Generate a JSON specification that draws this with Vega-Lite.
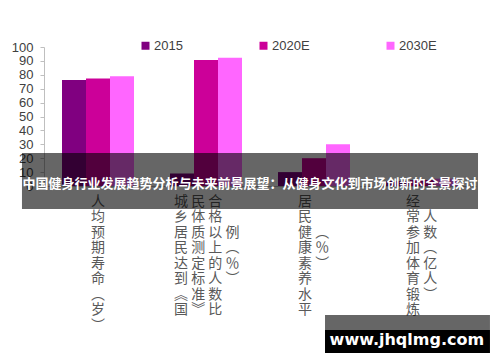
{
  "$schema": "https://vega.github.io/schema/vega-lite/v6.json",
  "width": 432,
  "height": 139,
  "autosize": {"type": "none"},
  "padding": {"left": 44, "top": 47, "right": 24, "bottom": 176},
  "background": "white",
  "config": {"view": {"stroke": null}, "font": "Liberation Sans"},
  "resolve": {"axis": {"x": "independent", "y": "independent"}},
  "datasets": {
    "bars": [
      {"category": "人均预期寿命（岁）", "series": "2015", "value": 76.3},
      {"category": "人均预期寿命（岁）", "series": "2020E", "value": 77.3},
      {"category": "人均预期寿命（岁）", "series": "2030E", "value": 79.0},
      {"category": "城乡居民达到《国民体质测定标准》合格以上的人数比例（%）", "series": "2015", "value": 9.0},
      {"category": "城乡居民达到《国民体质测定标准》合格以上的人数比例（%）", "series": "2020E", "value": 90.6},
      {"category": "城乡居民达到《国民体质测定标准》合格以上的人数比例（%）", "series": "2030E", "value": 92.2},
      {"category": "居民健康素养水平（%）", "series": "2015", "value": 10},
      {"category": "居民健康素养水平（%）", "series": "2020E", "value": 20},
      {"category": "居民健康素养水平（%）", "series": "2030E", "value": 30},
      {"category": "经常参加体育锻炼人数（亿人）", "series": "2015", "value": 3.6},
      {"category": "经常参加体育锻炼人数（亿人）", "series": "2020E", "value": 4.35},
      {"category": "经常参加体育锻炼人数（亿人）", "series": "2030E", "value": 5.3}
    ]
  },
  "layer": [
    {
      "data": {"name": "bars"},
      "mark": {"type": "bar"},
      "encoding": {
        "x": {
          "field": "category",
          "type": "nominal",
          "sort": ["人均预期寿命（岁）", "城乡居民达到《国民体质测定标准》合格以上的人数比例（%）", "居民健康素养水平（%）", "经常参加体育锻炼人数（亿人）"],
          "scale": {"paddingInner": 0.3333, "paddingOuter": 0.1667},
          "axis": {
            "title": null,
            "labelAngle": 0,
            "labelFont": "Noto Sans CJK SC",
            "labelFontSize": 14,
            "labelColor": "#595959",
            "labelLineHeight": 15.5,
            "labelPadding": 8,
            "labelBaseline": "top",
            "labelAlign": "left",
            "labelLimit": 0,
            "labelOverlap": false,
            "labelBound": false,
            "ticks": false,
            "domainColor": "#BFBFBF",
            "labelOffset": {
              "condition": [
                {"test": "datum.value == '人均预期寿命（岁）'", "value": -7},
                {"test": "datum.value == '居民健康素养水平（%）' || datum.value == '经常参加体育锻炼人数（亿人）'", "value": -16}
              ],
              "value": -32
            },
            "labelExpr": "datum.value == '人均预期寿命（岁）' ? ['人','均','预','期','寿','命','︵','岁','︶'] : datum.value == '居民健康素养水平（%）' ? ['居','民','健 ︵','康 ％','素 ︶','养','水','平'] : datum.value == '经常参加体育锻炼人数（亿人）' ? ['经','常 人','参 数','加 ︵','体 亿','育 人','锻 ︶','炼'] : ['城 民 合','乡 体 格','居 质 以 例','民 测 上 ︵','达 定 的 ％','到 标 人 ︶','︽ 准 数','国 ︾ 比']"
          }
        },
        "xOffset": {
          "field": "series",
          "type": "nominal",
          "sort": ["2015", "2020E", "2030E"],
          "scale": {"paddingInner": 0, "paddingOuter": 0}
        },
        "y": {
          "field": "value",
          "type": "quantitative",
          "scale": {"domain": [0, 100], "nice": false},
          "axis": {
            "title": null,
            "values": [0, 10, 20, 30, 40, 50, 60, 70, 80, 90, 100],
            "grid": false,
            "labelOverlap": false,
            "labelFont": "Liberation Sans",
            "labelFontSize": 13,
            "labelColor": "#404040",
            "labelPadding": 7,
            "tickSize": 4,
            "tickColor": "#BFBFBF",
            "domainColor": "#BFBFBF"
          }
        },
        "color": {
          "field": "series",
          "type": "nominal",
          "scale": {"domain": ["2015", "2020E", "2030E"], "range": ["#800080", "#CC0099", "#FF66FF"]},
          "legend": {
            "title": null,
            "orient": "none",
            "legendX": 95,
            "legendY": -8,
            "direction": "horizontal",
            "symbolType": "square",
            "symbolSize": 64,
            "symbolStrokeWidth": 0,
            "symbolOpacity": 1,
            "labelFont": "Liberation Sans",
            "labelFontSize": 13,
            "labelColor": "#404040",
            "labelOffset": 2,
            "columnPadding": 74,
            "padding": 0
          }
        }
      }
    },
    {
      "data": {"values": [{"overlay": "banner"}]},
      "mark": {"type": "rect", "color": "black", "opacity": 0.6},
      "encoding": {
        "x": {"datum": "人均预期寿命（岁）", "type": "nominal", "bandPosition": -0.556, "axis": null},
        "x2": {"datum": "经常参加体育锻炼人数（亿人）", "bandPosition": 1.278},
        "y": {"datum": 23.7, "type": "quantitative", "axis": null},
        "y2": {"datum": -16.5}
      }
    },
    {
      "data": {"values": [{"text": "中国健身行业发展趋势分析与未来前景展望：从健身文化到市场创新的全景探讨"}]},
      "mark": {"type": "text", "color": "white", "font": "Noto Sans CJK SC", "fontWeight": "bold", "fontSize": 13, "baseline": "middle", "align": "center"},
      "encoding": {
        "x": {"datum": "城乡居民达到《国民体质测定标准》合格以上的人数比例（%）", "type": "nominal", "bandPosition": 1.111, "axis": null},
        "y": {"datum": 1.4, "type": "quantitative", "axis": null},
        "text": {"field": "text"}
      }
    },
    {
      "data": {"values": [{"overlay": "strip"}]},
      "mark": {"type": "rect", "color": "black", "opacity": 0.6},
      "encoding": {
        "x": {"datum": "经常参加体育锻炼人数（亿人）", "type": "nominal", "bandPosition": -0.847, "axis": null},
        "x2": {"datum": "经常参加体育锻炼人数（亿人）", "bandPosition": 1.444},
        "y": {"datum": -92.8, "type": "quantitative", "axis": null},
        "y2": {"datum": -103.6}
      }
    },
    {
      "data": {"values": [{"overlay": "box"}]},
      "mark": {"type": "rect", "color": "black", "opacity": 1},
      "encoding": {
        "x": {"datum": "经常参加体育锻炼人数（亿人）", "type": "nominal", "bandPosition": -0.847, "axis": null},
        "x2": {"datum": "经常参加体育锻炼人数（亿人）", "bandPosition": 1.444},
        "y": {"datum": -103.6, "type": "quantitative", "axis": null},
        "y2": {"datum": -120.1}
      }
    },
    {
      "data": {"values": [{"text": "www.jhqlmg.com"}]},
      "mark": {"type": "text", "color": "white", "font": "DejaVu Sans", "fontWeight": "bold", "fontSize": 16, "baseline": "middle", "align": "center"},
      "encoding": {
        "x": {"datum": "经常参加体育锻炼人数（亿人）", "type": "nominal", "bandPosition": 0.29, "axis": null},
        "y": {"datum": -110.8, "type": "quantitative", "axis": null},
        "text": {"field": "text"}
      }
    }
  ]
}
